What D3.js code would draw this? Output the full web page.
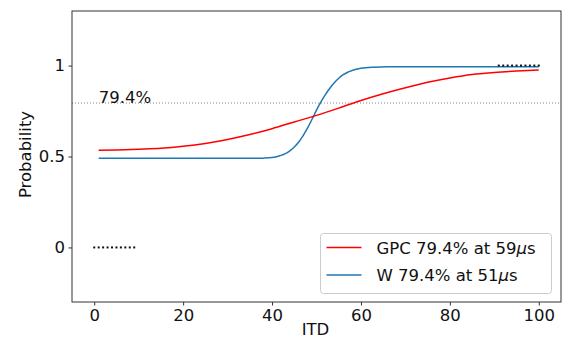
<!DOCTYPE html>
<html>
<head>
<meta charset="utf-8">
<script src="https://cdn.jsdelivr.net/npm/d3@7"></script>
<style>
  body { margin: 0; background: #fff; }
  svg text { font-family: "DejaVu Sans", sans-serif; }
</style>
</head>
<body>
<div id="chart"></div>
<script>
// data
var gpcX = [1, 5, 10, 15, 20, 25, 30, 35, 40, 45, 50, 55, 60, 65, 70, 75, 80, 85, 90, 95, 100];
var gpcY = [0.534, 0.536, 0.540, 0.545, 0.556, 0.572, 0.594, 0.621, 0.653, 0.690, 0.726, 0.766, 0.808, 0.845, 0.878, 0.908, 0.932, 0.951, 0.962, 0.970, 0.976];

var wX = [1, 10, 20, 30, 36, 38, 40, 41, 42, 43, 44, 45, 46, 47, 48, 49, 50, 51, 52, 53, 54, 55, 56, 57, 58, 60, 63, 66, 70, 80, 90, 100];
var wY = [0.490, 0.490, 0.490, 0.490, 0.490, 0.491, 0.494, 0.499, 0.506, 0.516, 0.531, 0.552, 0.580, 0.615, 0.657, 0.705, 0.755, 0.800, 0.840, 0.875, 0.905, 0.930, 0.950, 0.963, 0.973, 0.985, 0.991, 0.993, 0.993, 0.993, 0.993, 0.993];

var lowX = [0, 1, 2, 3, 4, 5, 6, 7, 8, 9];
var lowY = [0, 0, 0, 0, 0, 0, 0, 0, 0, 0];
var highX = [91, 92, 93, 94, 95, 96, 97, 98, 99, 100];
var highY = [1, 1, 1, 1, 1, 1, 1, 1, 1, 1];

var threshold = 0.794;
var xTicks = [0, 20, 40, 60, 80, 100];
var yTicks = [0, 0.5, 1];
var legendLabels = ["GPC 79.4% at 59", "W 79.4% at 51"];

var containerWidth = 563,
    containerHeight = 340,
    margins = { top: 11, right: 2, bottom: 38, left: 72 },
    width = containerWidth - margins.left - margins.right,
    height = containerHeight - margins.top - margins.bottom;

var svg = d3.select("#chart")
    .append("svg")
    .attr("width", containerWidth)
    .attr("height", containerHeight);

var g = svg.append("g")
    .attr("transform", "translate(" + margins.left + "," + margins.top + ")");

var x = d3.scaleLinear().domain([-5, 105]).range([0, width]);
var y = d3.scaleLinear().domain([-0.3, 1.3]).range([height, 0]);

g.append("clipPath").attr("id", "clip")
  .append("rect").attr("width", width).attr("height", height);

// threshold line
g.append("line")
    .attr("x1", 0).attr("x2", width)
    .attr("y1", y(threshold)).attr("y2", y(threshold))
    .attr("stroke", "#888")
    .attr("stroke-width", 1)
    .attr("stroke-dasharray", "1,2");

g.append("text")
    .attr("x", x(1))
    .attr("y", y(threshold))
    .attr("font-size", 16.5)
    .attr("fill", "#111")
    .text("79.4%");

var line = d3.line()
    .x(function(d) { return x(d[0]); })
    .y(function(d) { return y(d[1]); })
    .curve(d3.curveMonotoneX);

var plot = g.append("g").attr("clip-path", "url(#clip)");

plot.append("path")
    .datum(d3.zip(wX, wY))
    .attr("d", line)
    .attr("fill", "none")
    .attr("stroke", "#1f77b4")
    .attr("stroke-width", 1.5);

plot.append("path")
    .datum(d3.zip(gpcX, gpcY))
    .attr("d", line)
    .attr("fill", "none")
    .attr("stroke", "#ff0000")
    .attr("stroke-width", 1.5);

// data points
plot.selectAll(".pt")
    .data(d3.zip(lowX, lowY).concat(d3.zip(highX, highY)))
    .enter().append("rect")
    .attr("class", "pt")
    .attr("x", function(d) { return x(d[0]) - 1; })
    .attr("y", function(d) { return y(d[1]) - 1; })
    .attr("width", 2).attr("height", 2)
    .attr("fill", "#111");

// axes
var xAxis = g.append("g")
    .attr("transform", "translate(0," + height + ")")
    .call(d3.axisBottom(x).tickValues(xTicks).tickSize(3.5).tickPadding(3.5).tickFormat(d3.format("d")));
var yAxis = g.append("g")
    .call(d3.axisLeft(y).tickValues(yTicks).tickSize(3.5).tickPadding(3.5).tickFormat(function(d) { return String(d); }));

[xAxis, yAxis].forEach(function(a) {
  a.select(".domain").remove();
  a.selectAll("line").attr("stroke", "#333");
  a.selectAll("text").attr("font-size", 16.5).attr("fill", "#111").attr("font-family", "DejaVu Sans, sans-serif");
});

g.append("rect")
    .attr("width", width).attr("height", height)
    .attr("fill", "none")
    .attr("stroke", "#333")
    .attr("stroke-width", 1);

g.append("text")
    .attr("x", width / 2 - 1)
    .attr("y", height + 33)
    .attr("text-anchor", "middle")
    .attr("font-size", 16.5)
    .attr("fill", "#111")
    .text("ITD");

g.append("text")
    .attr("transform", "translate(" + (-41) + "," + (height / 2 - 2) + ") rotate(-90)")
    .attr("text-anchor", "middle")
    .attr("font-size", 16.5)
    .attr("fill", "#111")
    .text("Probability");

// legend
var legend = svg.append("g").attr("transform", "translate(320.5,233.5)");
legend.append("rect")
    .attr("width", 231).attr("height", 60)
    .attr("rx", 3)
    .attr("fill", "#fff").attr("fill-opacity", 0.8)
    .attr("stroke", "#ccc");

var colors = ["#ff0000", "#1f77b4"];
legendLabels.forEach(function(lbl, i) {
  var yy = 14 + i * 27.5;
  legend.append("line")
      .attr("x1", 6).attr("x2", 41)
      .attr("y1", yy).attr("y2", yy)
      .attr("stroke", colors[i]).attr("stroke-width", 1.5);
  var t = legend.append("text")
      .attr("x", 56).attr("y", yy + 6)
      .attr("font-size", 16.5)
      .attr("fill", "#111");
  t.append("tspan").text(lbl);
  t.append("tspan").attr("font-style", "italic").text("\u03bc");
  t.append("tspan").text("s");
});
</script>
</body>
</html>
